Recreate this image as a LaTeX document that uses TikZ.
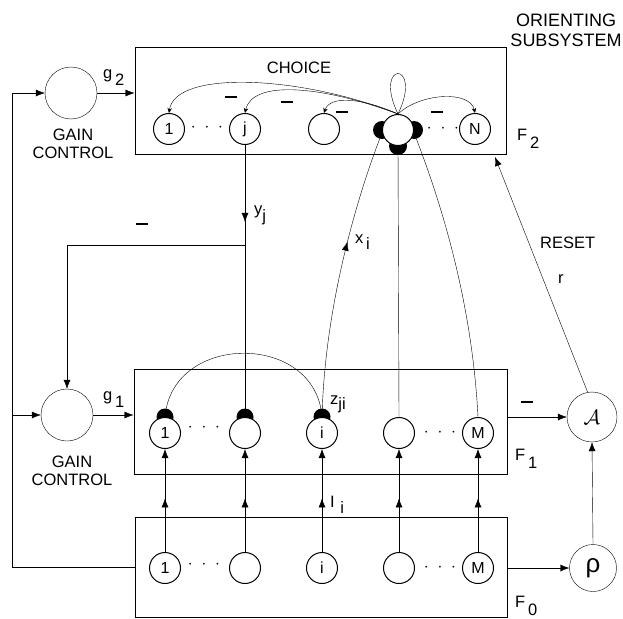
\documentclass[tikz,border=0pt]{standalone}
\usepackage{fontspec}
\setmainfont{Liberation Sans}
\usetikzlibrary{arrows.meta,decorations.markings,backgrounds,calc}
\newcommand{\lowered}[2][6pt]{\raisebox{-#1}{#2}}
\begin{document}
\begin{tikzpicture}[x=1pt,y=-1pt,line width=1pt,
  unit/.style={circle,draw,fill=white,minimum size=31pt,inner sep=0pt,font=\fontsize{16}{16}\selectfont},
  big/.style={circle,draw,fill=white,minimum size=52pt,inner sep=0pt},
  box/.style={draw,rectangle,inner sep=0pt},
  lab/.style={font=\fontsize{16.5}{18}\selectfont,inner sep=0pt},
  arr/.style={-{Latex[length=9pt,width=7pt]}},
  sarr/.style={-{Stealth[length=5pt,width=4.5pt]}},
  midarr/.style={postaction={decorate},decoration={markings,mark=at position #1 with {\arrow{Latex[length=9pt,width=7pt]}}}},
  bar/.style={inner sep=0pt},
]
\useasboundingbox (0,0) rectangle (623,618);

% boxes
\node[box,minimum width=371pt,minimum height=106pt] (F2) at (320.5,101) {};
\node[box,minimum width=373pt,minimum height=105pt] (F1) at (320.5,421.5) {};
\node[box,minimum width=372pt,minimum height=100pt] (F0) at (321,567) {};

% F2 units
\node[unit] (n1) at (169,129) {1};
\node[unit] (nj) at (245,129) {j};
\node[unit] (n3) at (324,129) {};
\node[unit] (w)  at (398,130) {};
\node[unit] (nN) at (475,129) {N};
% F1 units
\node[unit] (a1) at (165,433) {1};
\node[unit] (a2) at (245,433) {};
\node[unit] (ai) at (322,433) {i};
\node[unit] (a4) at (399,433) {};
\node[unit] (aM) at (478,433) {M};
% F0 units
\node[unit] (b1) at (165,568) {1};
\node[unit] (b2) at (245,568) {};
\node[unit] (bi) at (322,568) {i};
\node[unit] (b4) at (399,568) {};
\node[unit] (bM) at (478,568) {M};

% black synaptic knobs
\begin{pgfonlayer}{background}
\fill (w.west) circle (9);
\fill (w.east) circle (9);
\fill (w.south) circle (9);
\fill (a1.north) circle (8.5);
\fill (a2.north) circle (8.5);
\fill (ai.north) circle (8.5);
\end{pgfonlayer}

% gain controls, orienting
\node[big] (gc2) at (71,93) {};
\node[big] (gc1) at (67,415) {};
\node[circle,draw,fill=white,minimum size=50pt,inner sep=0pt,font=\fontsize{22}{22}\selectfont] (A) at (592,417) {$\mathcal{A}$};
\node[circle,draw,fill=white,minimum size=47pt,inner sep=0pt,font=\fontsize{26}{26}\selectfont] (rho) at (593,568) {ρ};

% dots
\node[lab] (d1) at (207,128) {$\cdot\hspace{5pt}\cdot\hspace{5pt}\cdot$};
\node[lab] (d2) at (443,129) {$\cdot\hspace{5pt}\cdot\hspace{5pt}\cdot$};
\node[lab] (d3) at (204,428) {$\cdot\hspace{5pt}\cdot\hspace{5pt}\cdot$};
\node[lab] (d4) at (440,433) {$\cdot\hspace{5pt}\cdot\hspace{5pt}\cdot$};
\node[lab] (d5) at (204,565) {$\cdot\hspace{5pt}\cdot\hspace{5pt}\cdot$};
\node[lab] (d6) at (440,568) {$\cdot\hspace{5pt}\cdot\hspace{5pt}\cdot$};

% texts
\node[lab] (choice) at (299,68) {CHOICE};
\node[lab,align=center] (gc2lab) at (73,144) {GAIN\\CONTROL};
\node[lab,align=center] (gc1lab) at (72,471) {GAIN\\CONTROL};
\node[font=\fontsize{18}{20}\selectfont,inner sep=0pt,align=center] (orient) at (566,30) {ORIENTING\\SUBSYSTEM};
\node[lab,anchor=base west] (g2) at (103,78) {g\,\lowered[7pt]{2}};
\node[lab,anchor=base west] (g1) at (103,400) {g\,\lowered[7pt]{1}};
\node[lab,anchor=base west] (yj) at (254,214) {y\lowered[7pt]{j}};
\node[lab,anchor=base west] (xi) at (355,243) {x\,\lowered[6pt]{i}};
\node[lab,anchor=base west] (zji) at (330,404) {z\lowered[5pt]{ji}};
\node[lab,anchor=base west] (Ii) at (330,507) {I\,\,\lowered[6pt]{i}};
\node[lab,anchor=base west] (F2l) at (517,140) {F\,\lowered[8pt]{2}};
\node[lab,anchor=base west] (F1l) at (515,460) {F\,\lowered[8pt]{1}};
\node[lab,anchor=base west] (F0l) at (515,607) {F\,\lowered[8pt]{0}};
\node[lab,anchor=base west] (reset) at (540,248) {RESET};
\node[lab,anchor=base west] (rl) at (558,283) {r};

% minus signs
\node[bar] (m1) at (231,97) {\rule{12pt}{1.8pt}};
\node[bar] (m2) at (287,102) {\rule{12pt}{1.8pt}};
\node[bar] (m3) at (342,112) {\rule{12pt}{1.8pt}};
\node[bar] (m4) at (437,112) {\rule{12pt}{1.8pt}};
\node[bar] (m5) at (142,224) {\rule{12pt}{1.8pt}};
\node[bar] (m6) at (527,402) {\rule{12pt}{1.8pt}};

% F2 competitive connections
\draw[sarr] (w.north) .. controls (300,75) and (175,70) .. (n1.north);
\draw[sarr] (w.north) .. controls (320,85) and (252,80) .. (nj.north);
\draw[sarr] (w.north) .. controls (362,98) and (330,95) .. (n3.north);
\draw[sarr] (w.north) .. controls (420,93) and (470,90) .. (nN.north);
\draw (w.north) .. controls (372,60) and (424,60) .. (w.north);

% top-down / bottom-up between F2 and F1
\draw[midarr=0.283] (nj.south) -- (a2.north);
\coordinate (br) at (245,245);
\draw[arr] (br) -| (gc1.north);
\draw[midarr=0.62] (ai.north) .. controls (325,300) and (360,190) .. ($(w.west)+(-2,8)$);
\draw (w.south) -- (a4.north);
\draw ($(w.east)+(2,8)$) .. controls (440,200) and (472,300) .. (aM.north);
\draw (a1.north) .. controls (172,332) and (316,332) .. (ai.north);

% F0 -> F1
\foreach \s/\t in {b1/a1,b2/a2,bi/ai,b4/a4,bM/aM}
  \draw[arr,midarr=0.52] (\s.north) -- (\t.south);

% gain control wiring
\coordinate (fl) at (12,567);
\draw[arr] (F0.west) -- (fl) |- (gc2.west);
\draw[arr] (fl |- gc1) -- (gc1.west);
\draw[arr] (gc2.east) -- (F2.west |- gc2);
\draw[arr] (gc1.east) -- (F1.west |- gc1);

% orienting subsystem
\draw[arr] (F0.east |- rho) -- (rho.west);
\draw[arr] (F1.east |- A) -- (A.west);
\draw[arr] (rho.north) -- (A.south);
\coordinate (rst) at (495,157);
\draw[arr] (A.100) -- (rst);
\end{tikzpicture}
\end{document}
